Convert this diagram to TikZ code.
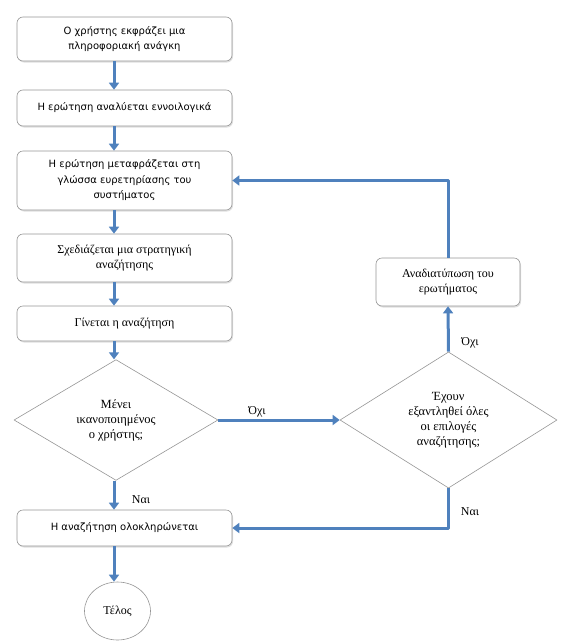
\documentclass[tikz,border=0pt]{standalone}
\usepackage{fontspec}
\setmainfont{Liberation Serif}
\newfontfamily\grsans{DejaVu Sans}
\usetikzlibrary{shapes.geometric,arrows.meta,shadows}
\definecolor{flowblue}{RGB}{79,129,189}
\definecolor{boxgray}{RGB}{150,150,150}
\tikzset{
  box/.style={draw=boxgray,fill=white,line width=0.6pt,rounded corners=6pt,align=center,
    inner sep=2pt,drop shadow={opacity=0.25,shadow xshift=1pt,shadow yshift=-1.5pt}},
  sanstxt/.style={font=\grsans\fontsize{10}{15.5}\selectfont},
  seriftxt/.style={font=\fontsize{12}{15.5}\selectfont},
  choice/.style={diamond,draw=boxgray,fill=white,line width=0.6pt,align=center,inner sep=0pt,
    font=\fontsize{12.5}{15}\selectfont},
  flow/.style={draw=flowblue,line width=3pt,-{Triangle[width=10pt,length=7pt]}},
  lbl/.style={font=\fontsize{12}{13}\selectfont}
}
\begin{document}
\begin{tikzpicture}[x=1pt,y=-1pt,line join=round]
				\useasboundingbox (0,0) rectangle (566,643);
				\coordinate (ax) at (114,0);
				% left column
				\node[box,sanstxt,minimum width=215pt,minimum height=44pt] (need) at (124.5,39) {Ο χρήστης εκφράζει μια\\πληροφοριακή ανάγκη};
				\node[box,sanstxt,minimum width=215pt,minimum height=36pt] (analyse) at (124.5,108) {Η ερώτηση αναλύεται εννοιλογικά};
				\node[box,sanstxt,minimum width=215pt,minimum height=59pt] (translate) at (124.5,180.5) {Η ερώτηση μεταφράζεται στη\\γλώσσα ευρετηρίασης του\\συστήματος};
				\node[box,seriftxt,minimum width=215pt,minimum height=48pt] (plan) at (124.5,258) {Σχεδιάζεται μια στρατηγική\\αναζήτησης};
				\node[box,seriftxt,minimum width=215pt,minimum height=35pt] (search) at (124.5,323.5) {Γίνεται η αναζήτηση};
				\node[choice,minimum width=204pt,minimum height=106pt] (happy) at (116,420) {Μένει\\ικανοποιημένος\\ο χρήστης;};
				\node[box,sanstxt,minimum width=215pt,minimum height=36pt] (done) at (124.5,528) {Η αναζήτηση ολοκληρώνεται};
				\node[ellipse,draw=boxgray,fill=white,line width=0.6pt,seriftxt,minimum width=66pt,minimum height=58pt] (end) at (117.5,611) {Τέλος};
				% right column
				\node[choice,minimum width=217pt,minimum height=132pt] (spent) at (448.5,420) {Έχουν\\εξαντληθεί όλες\\οι επιλογές\\αναζήτησης;};
				\node[box,seriftxt,minimum width=144pt,minimum height=48pt] (rephrase) at (448,282) {Αναδιατύπωση του\\ερωτήματος};
				% connectors
				\draw[flow] (need.south -| ax)--(analyse.north -| ax);
				\draw[flow] (analyse.south -| ax)--(translate.north -| ax);
				\draw[flow] (translate.south -| ax)--(plan.north -| ax);
				\draw[flow] (plan.south -| ax)--(search.north -| ax);
				\draw[flow] (search.south -| ax)--(happy.north -| ax);
				\draw[flow] (happy.south -| ax)--(done.north -| ax);
				\draw[flow] (done.south -| ax)--(end.north -| ax);
				\draw[flow] (happy.east)--(spent.west);
				\draw[flow] (spent.north)--(rephrase.south);
				\draw[flow] (rephrase.north) |- (translate.east);
				\draw[flow] (spent.south) |- (done.east);
				\node[lbl] (yes1) at (141,500) {Ναι};
				\node[lbl] (no1) at (257,412) {Όχι};
				\node[lbl] (no2) at (470,343) {Όχι};
				\node[lbl] (yes2) at (470,512) {Ναι};
			\end{tikzpicture}
\end{document}
